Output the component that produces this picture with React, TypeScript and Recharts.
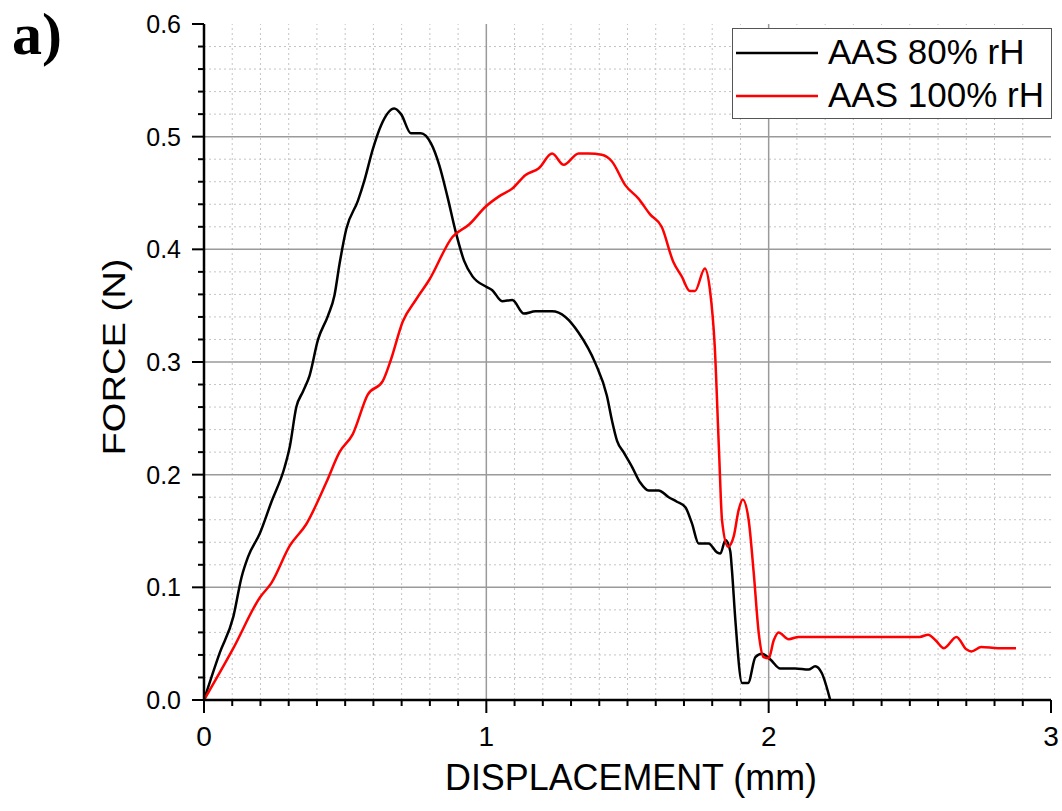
import React from 'react';
import { LineChart, Line, XAxis, YAxis, ReferenceLine, Legend } from 'recharts';

// AAS 80% rH (black)
const black80X = [
  0, 0.056, 0.104, 0.133, 0.156, 0.198, 0.239, 0.286, 0.304, 0.327, 0.351, 0.374, 0.404, 0.439, 0.462, 0.48,
  0.504, 0.545, 0.568, 0.598, 0.627, 0.674, 0.698, 0.733, 0.768, 0.804, 0.833, 0.862, 0.892, 0.921, 0.951,
  0.998, 1.02, 1.056, 1.092, 1.133, 1.174, 1.233, 1.28, 1.327, 1.386, 1.427, 1.445, 1.463, 1.486, 1.516,
  1.545, 1.575, 1.61, 1.646, 1.675, 1.705, 1.728, 1.752, 1.787, 1.817, 1.829, 1.847, 1.864, 1.87, 1.882,
  1.906, 1.927, 1.953, 1.976, 2.006, 2.041, 2.094, 2.141, 2.165, 2.188, 2.218,
];
const black80Y = [
  0, 0.042, 0.074, 0.109, 0.127, 0.148, 0.176, 0.207, 0.225, 0.26, 0.274, 0.288, 0.32, 0.341, 0.359, 0.387,
  0.418, 0.443, 0.461, 0.489, 0.51, 0.525, 0.52, 0.503, 0.503, 0.494, 0.475, 0.447, 0.415, 0.39, 0.376,
  0.367, 0.364, 0.354, 0.355, 0.343, 0.345, 0.345, 0.34, 0.326, 0.299, 0.27, 0.248, 0.23, 0.22, 0.207,
  0.193, 0.186, 0.186, 0.18, 0.176, 0.171, 0.157, 0.139, 0.139, 0.131, 0.13, 0.142, 0.132, 0.115, 0.071,
  0.015, 0.015, 0.038, 0.041, 0.036, 0.028, 0.028, 0.027, 0.03, 0.024, 0,
];

// AAS 100% rH (red)
const red100X = [
  0, 0.104, 0.198, 0.239, 0.304, 0.362, 0.433, 0.48, 0.527, 0.58, 0.633, 0.662, 0.704, 0.75, 0.798, 0.88,
  0.939, 0.998, 1.045, 1.092, 1.139, 1.186, 1.233, 1.274, 1.327, 1.362, 1.409, 1.445, 1.492, 1.539, 1.58,
  1.621, 1.662, 1.692, 1.721, 1.739, 1.774, 1.792, 1.809, 1.824, 1.835, 1.856, 1.876, 1.894, 1.908, 1.929,
  1.947, 1.965, 1.982, 2.0, 2.018, 2.035, 2.071, 2.106, 2.224, 2.341, 2.459, 2.535, 2.565, 2.591, 2.621,
  2.665, 2.7, 2.718, 2.753, 2.812, 2.876,
];
const red100Y = [
  0, 0.046, 0.091, 0.104, 0.137, 0.156, 0.193, 0.22, 0.236, 0.271, 0.283, 0.302, 0.336, 0.355, 0.373, 0.411,
  0.422, 0.438, 0.447, 0.454, 0.466, 0.472, 0.485, 0.475, 0.485, 0.485, 0.484, 0.478, 0.457, 0.445, 0.431,
  0.42, 0.389, 0.376, 0.363, 0.363, 0.383, 0.364, 0.314, 0.222, 0.159, 0.136, 0.145, 0.169, 0.178, 0.16,
  0.113, 0.059, 0.038, 0.037, 0.053, 0.06, 0.054, 0.056, 0.056, 0.056, 0.056, 0.056, 0.058, 0.053, 0.046,
  0.056, 0.045, 0.043, 0.047, 0.046, 0.046,
];

const seriesNames = ['AAS 80% rH', 'AAS 100% rH'];

// axis ticks (major ones get labels)
const xTicks = [
  0, 0.1, 0.2, 0.3, 0.4, 0.5, 0.6, 0.7, 0.8, 0.9, 1, 1.1, 1.2, 1.3, 1.4, 1.5, 1.6, 1.7, 1.8, 1.9, 2,
  2.1, 2.2, 2.3, 2.4, 2.5, 2.6, 2.7, 2.8, 2.9, 3,
];
const yTicks = [
  0, 0.02, 0.04, 0.06, 0.08, 0.1, 0.12, 0.14, 0.16, 0.18, 0.2, 0.22, 0.24, 0.26, 0.28, 0.3, 0.32, 0.34,
  0.36, 0.38, 0.4, 0.42, 0.44, 0.46, 0.48, 0.5, 0.52, 0.54, 0.56, 0.58, 0.6,
];

// grid lines
const xMajorGrid = [1, 2];
const yMajorGrid = [0.1, 0.2, 0.3, 0.4, 0.5];
const xMinorGrid = xTicks.filter((v) => v > 0 && v < 3 && !xMajorGrid.includes(v));
const yMinorGrid = yTicks.filter((v) => v > 0 && v < 0.6 && !yMajorGrid.includes(v));

const blackData = black80X.map((x, i) => ({ x, y: black80Y[i] }));
const redData = red100X.map((x, i) => ({ x, y: red100Y[i] }));

const FONT = '"Liberation Sans", Arial, sans-serif';

const isMajorX = (v: number) => Math.abs(v - Math.round(v)) < 1e-6;
const isMajorY = (v: number) => Math.abs(v * 10 - Math.round(v * 10)) < 1e-6;

const XTick = (props: any) => {
  const { x, y, payload } = props;
  const major = isMajorX(payload.value);
  return (
    <g>
      <line x1={x} x2={x} y1={y} y2={y + (major ? 13 : 6)} stroke="#000" strokeWidth={2} />
      {major && (
        <text x={x} y={y + 46} textAnchor="middle" fontSize={28} fontFamily={FONT} fill="#000">
          {Math.round(payload.value)}
        </text>
      )}
    </g>
  );
};

const YTick = (props: any) => {
  const { x, y, payload } = props;
  const major = isMajorY(payload.value);
  return (
    <g>
      <line x1={x - (major ? 12 : 6)} x2={x} y1={y} y2={y} stroke="#000" strokeWidth={2} />
      {major && (
        <text x={x - 23} y={y + 9} textAnchor="end" fontSize={25} fontFamily={FONT} fill="#000">
          {payload.value.toFixed(1)}
        </text>
      )}
    </g>
  );
};

const LegendBox = (props: any) => {
  const items = [...(props.payload || [])].sort(
    (a: any, b: any) => seriesNames.indexOf(a.value) - seriesNames.indexOf(b.value)
  );
  return (
    <div
      style={{
        width: 320,
        height: 91,
        boxSizing: 'border-box',
        border: '1.5px solid #555',
        background: '#fff',
      }}
    >
      <svg width={317} height={88} style={{ display: 'block' }}>
        {items.map((item: any, i: number) => (
          <g key={item.value}>
            <line x1={3} x2={85} y1={24 + i * 43} y2={24 + i * 43} stroke={item.color} strokeWidth={2.5} />
            <text x={95} y={35 + i * 43} fontSize={35} fontFamily={FONT} fill="#000">
              {item.value}
            </text>
          </g>
        ))}
      </svg>
    </div>
  );
};

export default function App() {
  return (
    <div style={{ position: 'absolute', left: 0, top: 0, width: 1062, height: 811, background: '#fff' }}>
      <LineChart width={1062} height={811} margin={{ top: 24, right: 11, left: 104, bottom: 11 }}>
        {xMinorGrid.map((v) => (
          <ReferenceLine key={'xm' + v} x={v} stroke="#c4c4c4" strokeDasharray="2 3" strokeWidth={1} />
        ))}
        {yMinorGrid.map((v) => (
          <ReferenceLine key={'ym' + v} y={v} stroke="#c4c4c4" strokeDasharray="2 3" strokeWidth={1} />
        ))}
        {xMajorGrid.map((v) => (
          <ReferenceLine key={'xM' + v} x={v} stroke="#9a9a9a" strokeWidth={1.5} />
        ))}
        {yMajorGrid.map((v) => (
          <ReferenceLine key={'yM' + v} y={v} stroke="#9a9a9a" strokeWidth={1.5} />
        ))}
        <XAxis
          dataKey="x"
          type="number"
          domain={[0, 3]}
          ticks={xTicks}
          interval={0}
          tickLine={false}
          tickSize={0}
          tickMargin={0}
          axisLine={{ stroke: '#000', strokeWidth: 2.5 }}
          tick={<XTick />}
          height={100}
          label={{
            content: () => (
              <text x={631} y={790} textAnchor="middle" fontSize={36} fontFamily={FONT} fill="#000"
                textLength={372} lengthAdjust="spacingAndGlyphs">
                DISPLACEMENT (mm)
              </text>
            ),
          }}
        />
        <YAxis
          type="number"
          domain={[0, 0.6]}
          ticks={yTicks}
          interval={0}
          tickLine={false}
          tickSize={0}
          tickMargin={0}
          axisLine={{ stroke: '#000', strokeWidth: 2.5 }}
          tick={<YTick />}
          width={100}
          label={{
            content: () => (
              <text x={125} y={357} transform="rotate(-90, 125, 357)" textAnchor="middle" fontSize={31}
                fontFamily={FONT} fill="#000" textLength={197} lengthAdjust="spacingAndGlyphs">
                FORCE (N)
              </text>
            ),
          }}
        />
        <Line data={blackData} dataKey="y" name={seriesNames[0]} type="monotone" stroke="#000000"
          strokeWidth={2.5} dot={false} activeDot={false} isAnimationActive={false} />
        <Line data={redData} dataKey="y" name={seriesNames[1]} type="monotone" stroke="#ff0000"
          strokeWidth={2.5} dot={false} activeDot={false} isAnimationActive={false} />
        <Legend
          layout="horizontal"
          verticalAlign="middle"
          align="center"
          content={<LegendBox />}
          wrapperStyle={{ left: 732, top: 28, width: 320, height: 91 }}
        />
      </LineChart>
      <svg width={120} height={80} style={{ position: 'absolute', left: 0, top: 0 }}>
        <text x={12} y={54} fontSize={60} fontWeight="bold" fontFamily='"Liberation Serif", "Times New Roman", serif' fill="#000">
          a)
        </text>
      </svg>
    </div>
  );
}
